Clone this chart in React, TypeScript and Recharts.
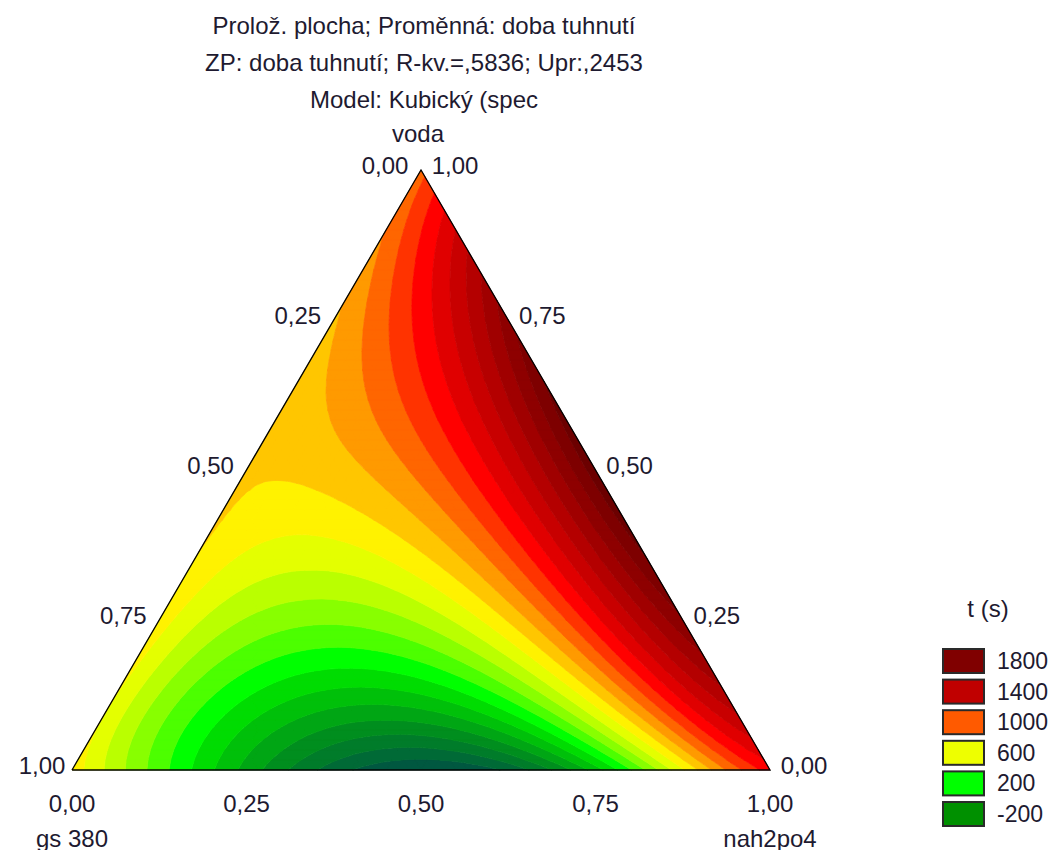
import React from 'react';
import { ScatterChart, Scatter, XAxis, YAxis, Customized } from 'recharts';

// Readings of t (s) on a 0.1 lattice.
// Each row is one voda fraction (0.0 … 1.0); entries are nah2po4 = 0, 0.1, 0.2 … (gs 380 = rest).
const VODA_00 = [760, 390, 170, -210, -400, -480, -415, -190, 250, 880, 1250];
const VODA_01 = [715, 400, 150, -10, -30, 80, 370, 660, 1100, 1450];
const VODA_02 = [730, 430, 290, 290, 330, 520, 900, 1300, 1780];
const VODA_03 = [760, 670, 540, 580, 780, 1050, 1410, 1870];
const VODA_04 = [800, 740, 760, 900, 1150, 1500, 1930];
const VODA_05 = [810, 805, 890, 1120, 1400, 1940];
const VODA_06 = [825, 940, 1170, 1565, 1920];
const VODA_07 = [880, 1050, 1420, 1850];
const VODA_08 = [930, 1240, 1700];
const VODA_09 = [990, 1350];
const VODA_10 = [1080];
const GRID_ROWS = [VODA_00, VODA_01, VODA_02, VODA_03, VODA_04, VODA_05, VODA_06, VODA_07, VODA_08, VODA_09, VODA_10];

// contour levels (band thresholds) and band colours
const BAND_LEVELS = [-400, -300, -200, -100, 0, 100, 200, 300, 400, 500, 600, 700, 800, 900, 1000, 1100, 1200, 1300, 1400, 1500, 1600, 1700, 1800, 1900];
const BAND_COLORS = [
  '#005840', '#006A36', '#007C2A', '#008E1E', '#00A614', '#00C00A', '#00DC02', '#00FF00',
  '#4CFF00', '#88FF00', '#BAFF00', '#E4FF00', '#FFF200', '#FFC600', '#FF9A00', '#FF6600',
  '#FF3300', '#FF0000', '#E00000', '#C80000', '#B40000', '#A00000', '#8E0000', '#7E0000', '#6C0000',
];

const LEGEND_VALUES = ['1800', '1400', '1000', '600', '200', '-200'];
const LEGEND_COLORS = ['#800000', '#C00000', '#FF5A00', '#EEFF00', '#00FF00', '#009000'];

const TICK_VALUES = [0, 0.25, 0.5, 0.75, 1];
const TICK_TEXT = ['0,00', '0,25', '0,50', '0,75', '1,00'];

const TITLE_LINES = [
  'Prolož. plocha; Proměnná: doba tuhnutí',
  'ZP: doba tuhnutí; R-kv.=,5836; Upr:,2453',
  'Model: Kubický (spec',
];

const FIT_DEGREE = 5;
const N_SUB = 60;
const FONT = '"Liberation Sans", Arial, sans-serif';
const TEXT_COLOR = '#1e1a30';

function basis(n: number, v: number, deg: number): number[] {
  const a = n - 1 / 3;
  const b = v - 1 / 3;
  const out: number[] = [];
  for (let d = 0; d <= deg; d++) {
    for (let k = 0; k <= d; k++) out.push(Math.pow(a, d - k) * Math.pow(b, k));
  }
  return out;
}

function fitSurface(deg: number) {
  const rows: number[][] = [];
  const ys: number[] = [];
  GRID_ROWS.forEach((row, j) =>
    row.forEach((val, i) => {
      rows.push(basis(i / 10, j / 10, deg));
      ys.push(val);
    })
  );
  const m = rows[0].length;
  const A: number[][] = Array.from({ length: m }, () => new Array(m + 1).fill(0));
  for (let r = 0; r < rows.length; r++) {
    for (let p = 0; p < m; p++) {
      for (let q = 0; q < m; q++) A[p][q] += rows[r][p] * rows[r][q];
      A[p][m] += rows[r][p] * ys[r];
    }
  }
  for (let c = 0; c < m; c++) {
    let piv = c;
    for (let r = c + 1; r < m; r++) if (Math.abs(A[r][c]) > Math.abs(A[piv][c])) piv = r;
    const tmp = A[c];
    A[c] = A[piv];
    A[piv] = tmp;
    for (let r = 0; r < m; r++) {
      if (r === c) continue;
      const f = A[r][c] / A[c][c];
      if (f === 0) continue;
      for (let k = c; k <= m; k++) A[r][k] -= f * A[c][k];
    }
  }
  const coef = A.map((row, i) => row[m] / row[i]);
  return (n: number, v: number) => basis(n, v, deg).reduce((s, b, i) => s + b * coef[i], 0);
}

type Vtx = { x: number; y: number; v: number };

function clip(poly: Vtx[], t: number, keepAbove: boolean): Vtx[] {
  const out: Vtx[] = [];
  const inside = (p: Vtx) => (keepAbove ? p.v >= t : p.v <= t);
  for (let k = 0; k < poly.length; k++) {
    const a = poly[k];
    const b = poly[(k + 1) % poly.length];
    const ia = inside(a);
    const ib = inside(b);
    if (ia) out.push(a);
    if (ia !== ib) {
      const s = (t - a.v) / (b.v - a.v);
      out.push({ x: a.x + s * (b.x - a.x), y: a.y + s * (b.y - a.y), v: t });
    }
  }
  return out;
}

function bandOf(v: number) {
  let b = 0;
  while (b < BAND_LEVELS.length && v >= BAND_LEVELS[b]) b++;
  return b;
}

function buildBands() {
  const f = fitSurface(FIT_DEGREE);
  const N = N_SUB;
  const vals: number[][] = [];
  for (let j = 0; j <= N; j++) {
    vals.push([]);
    for (let i = 0; i <= N - j; i++) vals[j].push(f(i / N, j / N));
  }
  const vtx = (i: number, j: number): Vtx => ({ x: i / N + j / (2 * N), y: j / N, v: vals[j][i] });
  const bands = BAND_COLORS.map(() => ({ data: [] as { x: number; y: number }[], sizes: [] as number[] }));
  const addTri = (tri: Vtx[]) => {
    const vs = tri.map((p) => p.v);
    const b0 = bandOf(Math.min(...vs));
    const b1 = bandOf(Math.max(...vs));
    for (let b = b0; b <= b1; b++) {
      let poly = tri;
      if (b > 0) poly = clip(poly, BAND_LEVELS[b - 1], true);
      if (b < BAND_LEVELS.length && poly.length >= 3) poly = clip(poly, BAND_LEVELS[b], false);
      if (poly.length >= 3) {
        poly.forEach((p) => bands[b].data.push({ x: p.x, y: p.y }));
        bands[b].sizes.push(poly.length);
      }
    }
  };
  for (let j = 0; j < N; j++) {
    for (let i = 0; i < N - j; i++) {
      addTri([vtx(i, j), vtx(i + 1, j), vtx(i, j + 1)]);
      if (i + j < N - 1) addTri([vtx(i + 1, j), vtx(i + 1, j + 1), vtx(i, j + 1)]);
    }
  }
  return bands;
}

const BANDS = buildBands();

const OUTLINE = [
  { x: 0, y: 0 },
  { x: 1, y: 0 },
  { x: 0.5, y: 1 },
  { x: 0, y: 0 },
];

// gs 380 along left edge, voda along right edge, nah2po4 along bottom
const LEFT_TICKS = TICK_VALUES.map((g, k) => ({ x: (1 - g) / 2, y: 1 - g, label: TICK_TEXT[k], side: 'left', value: g }));
const RIGHT_TICKS = TICK_VALUES.map((w, k) => ({ x: 1 - w / 2, y: w, label: TICK_TEXT[k], side: 'right', value: w }));
const BOTTOM_TICKS = TICK_VALUES.map((n, k) => ({ x: n, y: 0, label: TICK_TEXT[k], side: 'bottom', value: n }));

const NoShape = () => <g />;

function BandPath(props: any) {
  const { points, sizes, bandColor } = props;
  if (!points || !points.length) return null;
  let d = '';
  let k = 0;
  for (const s of sizes as number[]) {
    for (let q = 0; q < s; q++) {
      const p = points[k + q];
      d += (q === 0 ? 'M' : 'L') + p.x.toFixed(2) + ',' + p.y.toFixed(2);
    }
    d += 'Z';
    k += s;
  }
  return <path d={d} fill={bandColor} stroke={bandColor} strokeWidth={0.7} strokeLinejoin="round" />;
}

function TickLabel(props: any) {
  const { cx, cy, payload } = props;
  if (cx == null || cy == null) return <g />;
  let dx = 0;
  let dy = 0;
  if (payload.side === 'left') {
    dx = payload.value === 1 ? -30 : -36;
    dy = -5;
  } else if (payload.side === 'right') {
    dx = 34;
    dy = -5;
  } else {
    dy = 33;
  }
  return (
    <text x={cx + dx} y={cy + dy} textAnchor="middle" dominantBaseline="central" fontFamily={FONT} fontSize={24} fill={TEXT_COLOR}>
      {payload.label}
    </text>
  );
}

function Decorations() {
  return (
    <g fontFamily={FONT} fill={TEXT_COLOR}>
      {TITLE_LINES.map((t, k) => (
        <text key={k} x={424} y={25 + k * 37} textAnchor="middle" dominantBaseline="central" fontSize={24}>
          {t}
        </text>
      ))}
      <text x={418} y={133} textAnchor="middle" dominantBaseline="central" fontSize={24}>
        voda
      </text>
      <text x={72} y={838} textAnchor="middle" dominantBaseline="central" fontSize={24}>
        gs 380
      </text>
      <text x={770} y={838} textAnchor="middle" dominantBaseline="central" fontSize={24}>
        nah2po4
      </text>
      <text x={988} y={608} textAnchor="middle" dominantBaseline="central" fontSize={24}>
        t (s)
      </text>
      {LEGEND_VALUES.map((v, k) => (
        <g key={v}>
          <rect x={943} y={649 + k * 30.6} width={41} height={24} fill={LEGEND_COLORS[k]} stroke="#2a2a2a" strokeWidth={2} />
          <text x={997} y={661 + k * 30.6} dominantBaseline="central" fontSize={23}>
            {v}
          </text>
        </g>
      ))}
    </g>
  );
}

export default function App() {
  return (
    <div style={{ position: 'absolute', left: 0, top: 0, width: 1057, height: 850, background: '#ffffff' }}>
      <ScatterChart width={1057} height={850} margin={{ top: 170, right: 287, bottom: 80, left: 72 }}>
        <XAxis type="number" dataKey="x" domain={[0, 1]} hide />
        <YAxis type="number" dataKey="y" domain={[0, 1]} hide />
        {BANDS.map((b, k) =>
          b.data.length ? (
            <Scatter
              key={'band' + k}
              data={b.data}
              fill={BAND_COLORS[k]}
              shape={NoShape}
              lineType="joint"
              line={<BandPath sizes={b.sizes} bandColor={BAND_COLORS[k]} />}
              isAnimationActive={false}
              legendType="none"
            />
          ) : null
        )}
        <Scatter
          data={OUTLINE}
          fill="#000000"
          shape={NoShape}
          lineType="joint"
          line={{ stroke: '#000000', strokeWidth: 1.3, fill: 'none' }}
          isAnimationActive={false}
          legendType="none"
        />
        <Scatter data={LEFT_TICKS} fill={TEXT_COLOR} shape={(p: any) => <TickLabel {...p} />} isAnimationActive={false} legendType="none" />
        <Scatter data={RIGHT_TICKS} fill={TEXT_COLOR} shape={(p: any) => <TickLabel {...p} />} isAnimationActive={false} legendType="none" />
        <Scatter data={BOTTOM_TICKS} fill={TEXT_COLOR} shape={(p: any) => <TickLabel {...p} />} isAnimationActive={false} legendType="none" />
        <Customized component={<Decorations />} />
      </ScatterChart>
    </div>
  );
}
